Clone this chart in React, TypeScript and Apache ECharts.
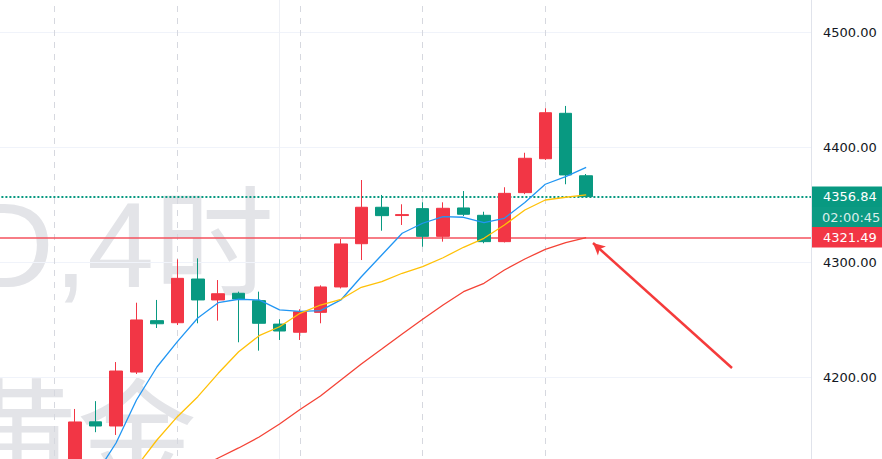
import { useEffect, useRef } from "react";
import * as echarts from "echarts";

// 4-hour bars (x axis is hidden in the reference)
const categories = [
  "10-10 18:00", "10-10 22:00", "10-11 02:00", "10-13 06:00", "10-13 10:00", "10-13 14:00",
  "10-13 18:00", "10-13 22:00", "10-14 02:00", "10-14 06:00", "10-14 10:00", "10-14 14:00",
  "10-14 18:00", "10-14 22:00", "10-15 02:00", "10-15 06:00", "10-15 10:00", "10-15 14:00",
  "10-15 18:00", "10-15 22:00", "10-16 02:00", "10-16 06:00", "10-16 10:00", "10-16 14:00",
  "10-16 18:00", "10-16 22:00", "10-17 02:00", "10-17 06:00", "10-17 10:00", "10-17 14:00",
  "10-17 18:00", "10-17 22:00", "10-18 02:00", "10-20 06:00", "10-20 10:00", "10-20 14:00",
  "10-20 18:00", "10-20 22:00", "10-21 02:00", "10-21 06:00", "10-21 10:00",
];
const firstCandleIndex = 4;

// [open, close, low, high]
const candles = [
  [4118, 4160.9, 4108, 4172.2],
  [4161, 4157.4, 4152, 4179],
  [4157.4, 4205.2, 4149.6, 4213],
  [4204.3, 4249.6, 4202.6, 4264.6],
  [4249, 4246.3, 4242.6, 4267],
  [4247.2, 4285.8, 4245.2, 4302.3],
  [4285.2, 4267, 4246.7, 4303.2],
  [4267, 4272.4, 4249, 4284.3],
  [4272.8, 4267.8, 4230.2, 4274.2],
  [4266.4, 4246.7, 4222.9, 4274.2],
  [4246, 4240, 4232.2, 4250.2],
  [4238.9, 4256.8, 4232.2, 4258.9],
  [4256.2, 4278.3, 4246.7, 4279.7],
  [4278.3, 4315.7, 4277, 4320],
  [4315.9, 4347.6, 4301.7, 4371.3],
  [4347.6, 4340.3, 4327.2, 4358.3],
  [4340.4, 4341.2, 4332.2, 4350.2],
  [4346.4, 4322.3, 4313.3, 4351.9],
  [4322.3, 4346.7, 4317.7, 4351.9],
  [4347, 4341.5, 4340, 4361.7],
  [4340.6, 4317.7, 4316.3, 4343.7],
  [4317.7, 4359.7, 4317, 4365],
  [4360.3, 4390.2, 4359, 4395],
  [4389.8, 4429.8, 4388.7, 4433.7],
  [4429.3, 4375.7, 4367.6, 4435.7],
  [4375, 4356.84, 4356.5, 4376.5],
];

const maFast = [
  4090, 4115, 4142.6, 4180, 4208.7, 4230.7, 4251.3, 4264.6, 4267.6, 4267, 4258.3, 4257, 4257.7,
  4267, 4287.2, 4306.1, 4325, 4333.7, 4339.4, 4338.9, 4334.3, 4338, 4351.7, 4367.6, 4374.2, 4382.3,
];
const maMid = [
  null, 4080, 4100, 4122, 4145.2, 4165.5, 4182.9, 4203.2, 4222, 4235.9, 4243.7, 4255.4, 4262.6,
  4267.6, 4278, 4282.9, 4290.2, 4295.9, 4303.7, 4312.8, 4320.6, 4332.2, 4345.2, 4353.9, 4356.3, 4358.3,
];
const maSlow = [
  null, null, null, null, null, 4110, 4120, 4129.6, 4138.3, 4147.8, 4159.1, 4171.7, 4183.5,
  4197.4, 4211.3, 4224.3, 4237.4, 4250.2, 4262.6, 4274.2, 4281.5, 4293, 4302.6, 4311, 4316.8, 4321.1,
];

const yTicks = [4100, 4600, 100]; // min, max, interval
const lastPrice = 4356.84;
const countdown = "02:00:45";
const levelPrice = 4321.49;
const sessionBreaks = [3, 9, 15, 21, 27];
const timeGridLines = [14];
const watermarkLines = ["XAUUSD,4时", "现货黄金"];

const UP = "#f23645";
const DOWN = "#089981";
const AXIS_FONT = "DejaVu Sans";

function toLine(values: (number | null)[]) {
  const out: [number, number][] = [];
  values.forEach((v, i) => {
    if (v != null) out.push([firstCandleIndex + i, v]);
  });
  return out;
}

export default function App() {
  const ref = useRef<HTMLDivElement>(null);
  useEffect(() => {
    if (!ref.current) return;
    const chart = echarts.init(ref.current, null, { renderer: "svg" });
    const candleData = candles.map((c, i) => [firstCandleIndex + i, c[0], c[1], c[2], c[3]]);
    const priceLabel = (bg: string, color: string) => ({
      show: true,
      position: "end",
      distance: 1,
      backgroundColor: bg,
      color,
      fontFamily: AXIS_FONT,
      fontSize: 13,
      lineHeight: 14.5,
      padding: [3, 14, 3, 11],
    });
    const option: any = {
      animation: false,
      backgroundColor: "#ffffff",
      grid: {
        left: -6.6,
        right: 71,
        top: -83,
        bottom: -33,
        containLabel: false,
        outerBoundsMode: "none",
      },
      graphic: [
        {
          type: "text",
          x: 274,
          y: 245,
          z: -10,
          silent: true,
          style: {
            text: watermarkLines[0],
            font: '120px "Liberation Sans", "Noto Sans CJK SC"',
            fill: "#e3e4e8",
            align: "right",
            verticalAlign: "middle",
          },
        },
        {
          type: "text",
          x: 197,
          y: 428,
          z: -10,
          silent: true,
          style: {
            text: watermarkLines[1],
            font: '120px "Noto Sans CJK SC"',
            fill: "#e3e4e8",
            align: "right",
            verticalAlign: "middle",
          },
        },
      ],
      xAxis: {
        type: "category",
        data: categories,
        boundaryGap: false,
        axisLine: { show: false },
        axisTick: { show: false },
        axisLabel: { show: false },
        splitLine: { show: false },
      },
      yAxis: {
        type: "value",
        position: "right",
        min: yTicks[0],
        max: yTicks[1],
        interval: yTicks[2],
        axisLine: { show: true, lineStyle: { color: "#e0e3eb", width: 1 } },
        axisTick: { show: false },
        axisLabel: {
          margin: 12,
          color: "#131722",
          fontFamily: AXIS_FONT,
          fontSize: 13,
          showMinLabel: false,
          showMaxLabel: false,
          formatter: (v: number) => v.toFixed(2),
        },
        splitLine: { show: true, lineStyle: { color: "#f0f3fa", width: 1 } },
      },
      series: [
        {
          type: "candlestick",
          data: candleData,
          encode: { x: 0, y: [1, 2, 3, 4] },
          barWidth: 13,
          itemStyle: {
            color: UP,
            color0: DOWN,
            borderColor: UP,
            borderColor0: DOWN,
            borderWidth: 1,
          },
          z: 5,
          markLine: {
            silent: true,
            symbol: ["none", "none"],
            animation: false,
            data: [
              ...sessionBreaks.map((i) => ({
                xAxis: i,
                label: { show: false },
                lineStyle: { color: "#d6d8df", width: 1, type: [6, 6] },
              })),
              ...timeGridLines.map((i) => ({
                xAxis: i,
                label: { show: false },
                lineStyle: { color: "#eef0f5", width: 1, type: "solid" },
              })),
              {
                yAxis: lastPrice,
                lineStyle: { color: DOWN, width: 2, type: [2, 2] },
                label: { ...priceLabel(DOWN, "#ffffff"), formatter: lastPrice.toFixed(2) },
              },
              {
                yAxis: lastPrice,
                lineStyle: { color: "rgba(0,0,0,0)", width: 0, type: "solid" },
                label: {
                  ...priceLabel("#0c9a83", "rgba(255,255,255,0.85)"),
                  offset: [0, 20.5],
                  padding: [3, 14, 3, 10],
                  formatter: countdown,
                },
              },
              {
                yAxis: levelPrice,
                lineStyle: { color: "#f4525e", width: 1.5, type: "solid" },
                label: { ...priceLabel(UP, "#ffffff"), formatter: levelPrice.toFixed(2) },
              },
              [
                { x: 732, y: 368, symbol: "none" },
                {
                  x: 593,
                  y: 243,
                  symbol: "arrow",
                  symbolSize: [9, 12],
                  lineStyle: { color: "#f53b3b", width: 2.5, type: "solid" },
                  label: { show: false },
                },
              ],
            ],
          },
        },
        {
          type: "line",
          data: toLine(maFast),
          showSymbol: false,
          symbol: "none",
          lineStyle: { color: "#2196f3", width: 1.3 },
          z: 6,
        },
        {
          type: "line",
          data: toLine(maMid),
          showSymbol: false,
          symbol: "none",
          lineStyle: { color: "#ffc107", width: 1.3 },
          z: 6,
        },
        {
          type: "line",
          data: toLine(maSlow),
          showSymbol: false,
          symbol: "none",
          lineStyle: { color: "#f44336", width: 1.3 },
          z: 6,
        },
      ],
    };
    chart.setOption(option);
    return () => chart.dispose();
  }, []);
  return (
    <div
      ref={ref}
      style={{ position: "absolute", left: 0, top: 0, width: 882, height: 459, background: "#fff" }}
    />
  );
}
